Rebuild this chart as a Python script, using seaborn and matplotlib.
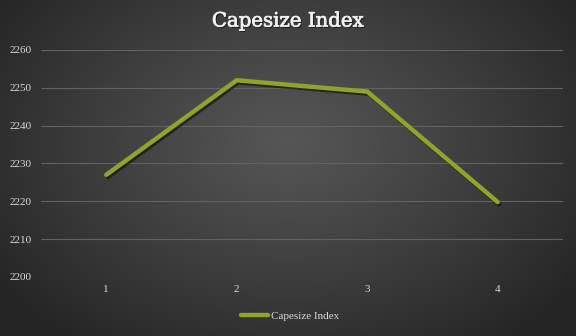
import numpy as np
import pandas as pd
import matplotlib
matplotlib.use("Agg")
import matplotlib.pyplot as plt
import matplotlib.patheffects as pe
import seaborn as sns

categories = [1, 2, 3, 4]
values = [2227, 2252, 2249, 2219.8]
series_name = "Capesize Index"
yticks = [2200, 2210, 2220, 2230, 2240, 2250, 2260]

df = pd.DataFrame({"x": categories, "y": values, "series": series_name})

sns.set_theme(style="dark")
plt.rcParams["font.family"] = ["Liberation Serif", "DejaVu Serif"]

fig = plt.figure(figsize=(5.76, 3.36), dpi=100)

# radial gradient background
bg = fig.add_axes([0, 0, 1, 1], zorder=-10)
H, W = 336, 576
yy, xx = np.mgrid[0:H, 0:W]
cx, cy = W * 0.5, H * 0.42
r = np.sqrt(((xx - cx) / (W * 0.62)) ** 2 + ((yy - cy) / (H * 0.75)) ** 2)
r = np.clip(r, 0, 1)
inner, outer = 0x56 / 255, 0x25 / 255
img = inner + (outer - inner) * r ** 1.1
bg.imshow(np.dstack([img, img, img]), aspect="auto", extent=[0, 1, 0, 1])
bg.axis("off")

ax = fig.add_axes([41 / W, 1 - 277 / H, (563 - 41) / W, (277 - 50) / H])
ax.patch.set_alpha(0)

sns.lineplot(data=df, x="x", y="y", hue="series", palette=["#8ea42a"], ax=ax,
             linewidth=3.2, legend=True,
             path_effects=[pe.SimpleLineShadow(offset=(1.2, -1.5), alpha=0.5, shadow_color="black"), pe.Normal()])
for l in ax.lines:
    l.set_solid_capstyle("round")
    l.set_solid_joinstyle("miter")

ax.set_xlim(0.5, 4.5)
ax.set_ylim(2200, 2260)
ax.set_yticks(yticks)
ax.set_xticks(categories)
ax.set_xticklabels([str(c) for c in categories])
ax.yaxis.grid(True, color="#626262", linewidth=0.8)
ax.xaxis.grid(False)
for s in ax.spines.values():
    s.set_visible(False)
ax.tick_params(axis="both", colors="#d9d9d9", labelsize=8, length=0)
ax.tick_params(axis="y", pad=7)
ax.tick_params(axis="x", pad=6)
for t in ax.get_yticklabels() + ax.get_xticklabels():
    t.set_color("#d9d9d9")
ax.set_xlabel("")
ax.set_ylabel("")

handles, labels = ax.get_legend_handles_labels()
ax.get_legend().remove()
leg = fig.legend(handles, labels, loc="center", bbox_to_anchor=(290 / W, 1 - 316 / H),
                 frameon=False, fontsize=8, handlelength=2.4, handletextpad=0.3)
for t in leg.get_texts():
    t.set_color("#d9d9d9")
for h in leg.get_lines():
    h.set_linewidth(3.2)
    h.set_path_effects([])

fig.text(0.5, 1 - 21 / H, "Capesize Index",
         ha="center", va="center",
         fontsize=14.2, fontweight="normal", color="#f2f2f2",
         family=["DejaVu Serif"],
         path_effects=[pe.SimplePatchShadow(offset=(1, -1), alpha=0.5, shadow_rgbFace="black"),
                       pe.withStroke(linewidth=0.5, foreground="#f2f2f2")])

fig.savefig("out.png", dpi=100)
